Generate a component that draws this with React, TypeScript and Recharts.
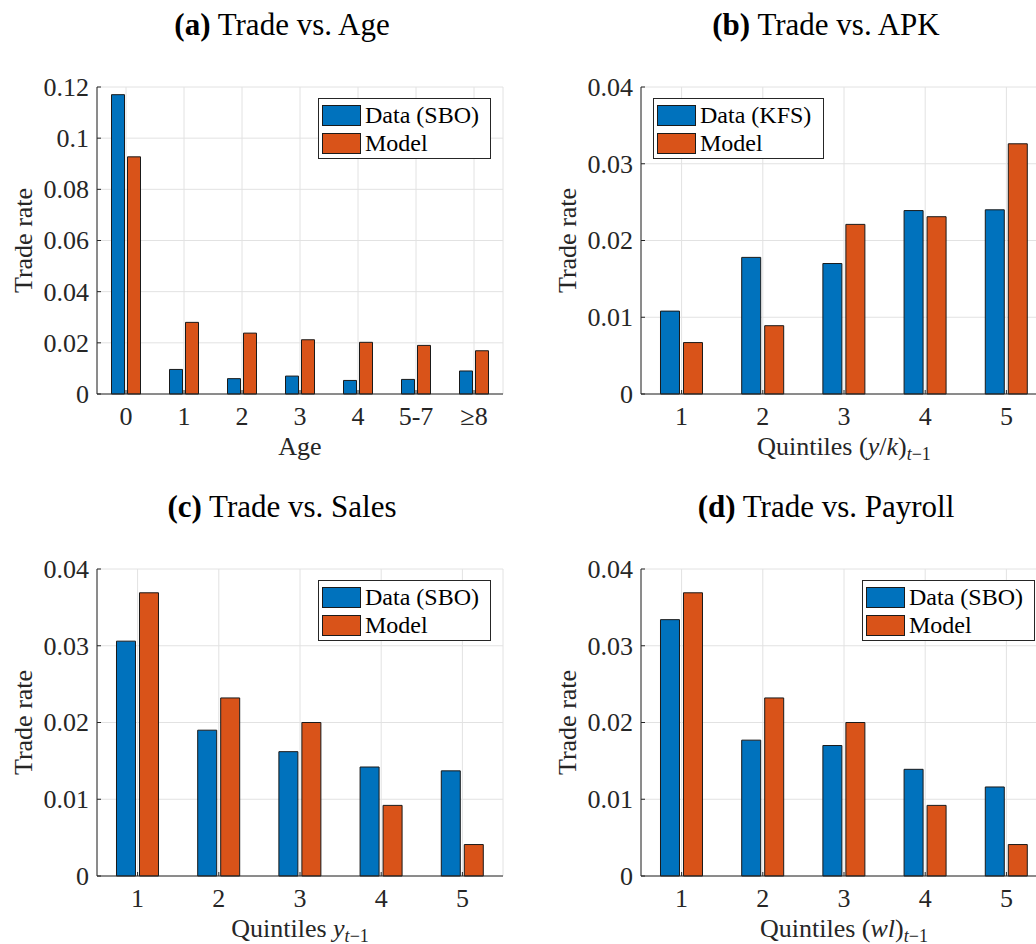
import React from 'react';
import { BarChart, Bar, XAxis, YAxis, CartesianGrid, Legend, Label } from 'recharts';

const ageCategories = ['0', '1', '2', '3', '4', '5-7', '≥8'];
const ageDataSBO = [0.117, 0.0096, 0.006, 0.007, 0.0053, 0.0057, 0.009];
const ageModel = [0.0927, 0.028, 0.0238, 0.0212, 0.0202, 0.019, 0.0169];

const quintiles = ['1', '2', '3', '4', '5'];
const apkDataKFS = [0.0108, 0.0178, 0.017, 0.0239, 0.024];
const apkModel = [0.0067, 0.0089, 0.0221, 0.0231, 0.0326];
const salesDataSBO = [0.0306, 0.019, 0.0162, 0.0142, 0.0137];
const salesModel = [0.0369, 0.0232, 0.02, 0.0092, 0.0041];
const payrollDataSBO = [0.0334, 0.0177, 0.017, 0.0139, 0.0116];
const payrollModel = [0.0369, 0.0232, 0.02, 0.0092, 0.0041];

const ageTicks = [0, 0.02, 0.04, 0.06, 0.08, 0.1, 0.12];
const quintileTicks = [0, 0.01, 0.02, 0.03, 0.04];

const FONT = '"Liberation Serif", "Times New Roman", serif';
const INK = '#262626';
const BLUE = '#0072BD';
const ORANGE = '#D95319';
const EDGE = '#1a1a1a';

const BottomTick = (props: any) => {
  const { x, y, payload } = props;
  return (
    <g>
      <line x1={x} y1={y} x2={x} y2={y - 4} stroke={INK} />
      <text x={x} y={y + 31} textAnchor="middle" fontSize={26} fill={INK} fontFamily={FONT}>
        {payload.value}
      </text>
    </g>
  );
};

const TopTick = (props: any) => {
  const { x, y } = props;
  return <line x1={x} y1={y} x2={x} y2={y + 4} stroke={INK} />;
};

const LeftTick = (props: any) => {
  const { x, y, payload } = props;
  return (
    <g>
      <line x1={x} y1={y} x2={x + 4} y2={y} stroke={INK} />
      <text x={x - 8} y={y} dy="0.34em" textAnchor="end" fontSize={26} fill={INK} fontFamily={FONT}>
        {String(payload.value)}
      </text>
    </g>
  );
};

const RightTick = (props: any) => {
  const { x, y } = props;
  return <line x1={x} y1={y} x2={x - 4} y2={y} stroke={INK} />;
};

type PanelProps = {
  left: number;
  top: number;
  tag: string;
  title: string;
  categories: string[];
  dataVals: number[];
  modelVals: number[];
  dataName: string;
  yMax: number;
  yTicks: number[];
  xLabel: React.ReactNode;
  legendLeft: number;
  legendWidth: number;
  barGap: number;
  catGap: string;
};

const Panel = (p: PanelProps) => {
  const rows = p.categories.map((c, i) => ({ cat: c, data: p.dataVals[i], model: p.modelVals[i] }));
  const swatches = [BLUE, ORANGE];

  const renderLegend = (lp: any) => (
    <div
      style={{
        width: p.legendWidth,
        boxSizing: 'border-box',
        border: `1px solid ${INK}`,
        background: '#fff',
        padding: '2px 0 1px 3px',
        fontFamily: FONT,
        fontSize: 24,
        color: '#000',
      }}
    >
      {(lp.payload || []).map((entry: any, i: number) => (
        <div key={entry.value} style={{ display: 'flex', alignItems: 'center', height: 28 }}>
          <span
            style={{
              display: 'inline-block',
              width: 39,
              height: 21,
              background: swatches[i],
              border: `1px solid ${EDGE}`,
              boxSizing: 'border-box',
              marginRight: 4,
            }}
          />
          <span style={{ whiteSpace: 'nowrap' }}>{entry.value}</span>
        </div>
      ))}
    </div>
  );

  return (
    <div style={{ position: 'absolute', left: p.left, top: p.top, width: 518, height: 470 }}>
      <div
        style={{
          position: 'absolute',
          left: 82,
          top: 9,
          width: 400,
          textAlign: 'center',
          fontFamily: FONT,
          fontSize: 31,
          lineHeight: '31px',
          color: '#000',
          whiteSpace: 'nowrap',
          zIndex: 2,
        }}
      >
        <b>{p.tag}</b> {p.title}
      </div>
      <BarChart
        width={518}
        height={470}
        data={rows}
        margin={{ top: 87, right: 15, bottom: 0, left: 0 }}
        barGap={p.barGap}
        barCategoryGap={p.catGap}
      >
        <CartesianGrid xAxisId="x" yAxisId="l" stroke="#e2e2e2" />
        <XAxis
          xAxisId="x"
          dataKey="cat"
          height={76}
          interval={0}
          tickSize={0}
          tickMargin={0}
          tickLine={false}
          axisLine={{ stroke: INK }}
          tick={BottomTick}
        >
          <Label
            content={(lp: any) => {
              const vb = lp.viewBox || { x: 97, y: 394, width: 406 };
              return (
                <text x={vb.x + vb.width / 2} y={vb.y + 61} textAnchor="middle" fontSize={26} fill={INK} fontFamily={FONT}>
                  {p.xLabel}
                </text>
              );
            }}
          />
        </XAxis>
        <XAxis
          xAxisId="top"
          dataKey="cat"
          orientation="top"
          height={0}
          interval={0}
          tickSize={0}
          tickMargin={0}
          tickLine={false}
          axisLine={{ stroke: INK }}
          tick={TopTick}
        />
        <YAxis
          yAxisId="l"
          width={97}
          domain={[0, p.yMax]}
          ticks={p.yTicks}
          interval={0}
          tickSize={0}
          tickMargin={0}
          tickLine={false}
          axisLine={{ stroke: INK }}
          tick={LeftTick}
        >
          <Label
            content={(lp: any) => {
              const vb = lp.viewBox || { x: 0, y: 87, width: 97, height: 307 };
              const cx = vb.x + vb.width - 65;
              const cy = vb.y + vb.height / 2;
              return (
                <text x={cx} y={cy} transform={`rotate(-90 ${cx} ${cy})`} textAnchor="middle" fontSize={26} fill={INK} fontFamily={FONT}>
                  Trade rate
                </text>
              );
            }}
          />
        </YAxis>
        <YAxis
          yAxisId="r"
          orientation="right"
          width={0}
          domain={[0, p.yMax]}
          ticks={p.yTicks}
          interval={0}
          tickSize={0}
          tickMargin={0}
          tickLine={false}
          axisLine={{ stroke: INK }}
          tick={RightTick}
        />
        <Legend
          layout="vertical"
          align="center"
          verticalAlign="middle"
          wrapperStyle={{ left: p.legendLeft, top: 98, width: 'auto' }}
          content={renderLegend}
        />
        <Bar
          xAxisId="x"
          yAxisId="l"
          dataKey="data"
          name={p.dataName}
          fill={BLUE}
          stroke={EDGE}
          strokeWidth={1}
          isAnimationActive={false}
        />
        <Bar
          xAxisId="x"
          yAxisId="l"
          dataKey="model"
          name="Model"
          fill={ORANGE}
          stroke={EDGE}
          strokeWidth={1}
          isAnimationActive={false}
        />
      </BarChart>
    </div>
  );
};

const sub = (
  <>
    <tspan dy={5} fontSize={18} fontStyle="italic">t</tspan>
    <tspan fontSize={18}>−1</tspan>
  </>
);

export default function App() {
  return (
    <div
      style={{
        position: 'absolute',
        left: 0,
        top: 0,
        width: 1036,
        height: 944,
        overflow: 'hidden',
        background: '#fff',
      }}
    >
      <Panel
        left={0}
        top={0}
        tag="(a)"
        title="Trade vs. Age"
        categories={ageCategories}
        dataVals={ageDataSBO}
        modelVals={ageModel}
        dataName="Data (SBO)"
        yMax={0.12}
        yTicks={ageTicks}
        xLabel="Age"
        legendLeft={318}
        legendWidth={173}
        barGap={3}
        catGap="25%"
      />
      <Panel
        left={544}
        top={0}
        tag="(b)"
        title="Trade vs. APK"
        categories={quintiles}
        dataVals={apkDataKFS}
        modelVals={apkModel}
        dataName="Data (KFS)"
        yMax={0.04}
        yTicks={quintileTicks}
        xLabel={
          <>
            <tspan>Quintiles (</tspan>
            <tspan fontStyle="italic">y</tspan>
            <tspan>/</tspan>
            <tspan fontStyle="italic">k</tspan>
            <tspan>)</tspan>
            {sub}
          </>
        }
        legendLeft={109}
        legendWidth={171}
        barGap={4}
        catGap="24%"
      />
      <Panel
        left={0}
        top={482}
        tag="(c)"
        title="Trade vs. Sales"
        categories={quintiles}
        dataVals={salesDataSBO}
        modelVals={salesModel}
        dataName="Data (SBO)"
        yMax={0.04}
        yTicks={quintileTicks}
        xLabel={
          <>
            <tspan>Quintiles </tspan>
            <tspan fontStyle="italic">y</tspan>
            {sub}
          </>
        }
        legendLeft={318}
        legendWidth={173}
        barGap={4}
        catGap="24%"
      />
      <Panel
        left={544}
        top={482}
        tag="(d)"
        title="Trade vs. Payroll"
        categories={quintiles}
        dataVals={payrollDataSBO}
        modelVals={payrollModel}
        dataName="Data (SBO)"
        yMax={0.04}
        yTicks={quintileTicks}
        xLabel={
          <>
            <tspan>Quintiles (</tspan>
            <tspan fontStyle="italic">wl</tspan>
            <tspan>)</tspan>
            {sub}
          </>
        }
        legendLeft={318}
        legendWidth={173}
        barGap={4}
        catGap="24%"
      />
    </div>
  );
}
